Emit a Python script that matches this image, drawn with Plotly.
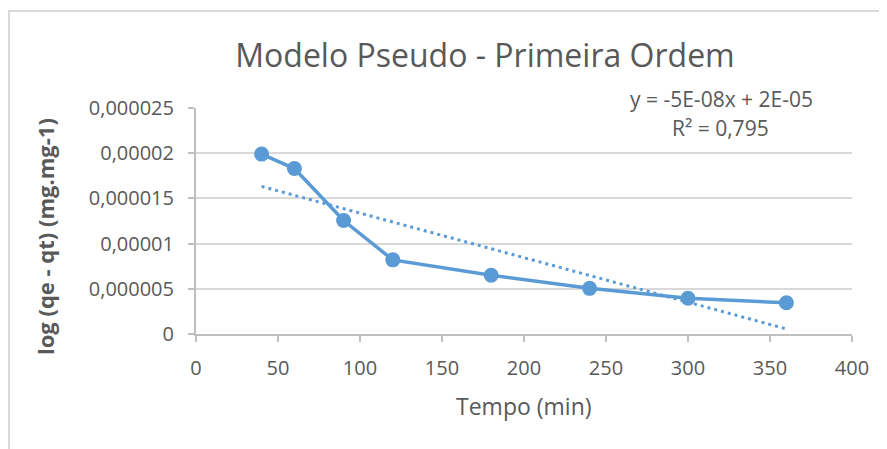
import numpy as np
import plotly.graph_objects as go

# Data
tempo = [40, 60, 90, 120, 180, 240, 300, 360]
log_qe_qt = [1.99e-5, 1.83e-5, 1.255e-5, 8.2e-6, 6.5e-6, 5.05e-6, 3.95e-6, 3.45e-6]
x_ticks = [0, 50, 100, 150, 200, 250, 300, 350, 400]
y_ticks = [0, 0.000005, 0.00001, 0.000015, 0.00002, 0.000025]
y_tick_labels = ["0", "0,000005", "0,00001", "0,000015", "0,00002", "0,000025"]
title_text = "Modelo Pseudo - Primeira Ordem"
eq_text = "y = -5E-08x + 2E-05"
r2_text = "R² = 0,795"

# Linear trendline (least squares, as Excel does)
slope, intercept = np.polyfit(tempo, log_qe_qt, 1)
trend_x = [tempo[0], tempo[-1]]
trend_y = [slope * v + intercept for v in trend_x]

# The page body has an 8px margin, so the figure starts at page (8, 8)
OFF = 8
PAGE_W, PAGE_H = 887, 449
W, H = PAGE_W - OFF, PAGE_H - OFF
# plot area in page pixels: x 196..852, y 108..334
L, R, T, B = 196 - OFF, PAGE_W - 852, 108 - OFF, PAGE_H - 334
pw, ph = W - L - R, H - T - B

def px(xpage):
    return (xpage - OFF - L) / pw

def py(ypage):
    return (H - B - (ypage - OFF)) / ph

TXT = "#595959"
BLUE = "#5b9bd5"
FONT = "Open Sans"

fig = go.Figure()
fig.add_trace(go.Scatter(
    x=trend_x, y=trend_y, mode="lines",
    line=dict(color=BLUE, width=3, dash="3px,4px"),
    hoverinfo="skip", showlegend=False))
fig.add_trace(go.Scatter(
    x=tempo, y=log_qe_qt, mode="lines+markers",
    line=dict(color=BLUE, width=3.5),
    marker=dict(color=BLUE, size=15),
    showlegend=False))

fig.update_layout(
    width=W, height=H,
    margin=dict(l=L, r=R, t=T, b=B, pad=0),
    paper_bgcolor="white", plot_bgcolor="white",
    font=dict(family=FONT, color=TXT, size=20),
    title=dict(text=title_text, x=(485 - OFF) / W, xref="container", xanchor="center",
               y=1 - (56 - OFF) / H, yref="container", yanchor="middle",
               font=dict(family=FONT, size=32, color=TXT)),
    showlegend=False,
)
fig.update_xaxes(
    range=[0, 400], tickvals=x_ticks, ticktext=[str(v) for v in x_ticks],
    showgrid=False, zeroline=False,
    showline=True, linecolor="#bfbfbf", linewidth=2,
    ticks="outside", ticklen=6, tickcolor="#bfbfbf", tickwidth=2,
    ticklabelstandoff=9,
    tickfont=dict(family=FONT, size=20, color=TXT),
)
fig.update_yaxes(
    range=[0, 0.000025], tickvals=y_ticks, ticktext=y_tick_labels,
    showgrid=True, gridcolor="#d9d9d9", gridwidth=2, zeroline=False,
    showline=True, linecolor="#bfbfbf", linewidth=2,
    ticks="outside", ticklen=6, tickcolor="#bfbfbf", tickwidth=2,
    ticklabelstandoff=10,
    tickfont=dict(family=FONT, size=20, color=TXT),
)

fig.add_annotation(text="Tempo (min)", xref="paper", yref="paper",
                   x=px(524), y=py(406), showarrow=False,
                   xanchor="center", yanchor="middle",
                   font=dict(family=FONT, size=23, color=TXT))
fig.add_annotation(text="<b>log (qe - qt) (mg.mg-1)</b>", xref="paper", yref="paper",
                   x=px(45), y=py(237), showarrow=False, textangle=-90,
                   xanchor="center", yanchor="middle",
                   font=dict(family=FONT, size=22, color=TXT))
fig.add_annotation(text=eq_text, xref="paper", yref="paper",
                   x=px(721), y=py(99), showarrow=False,
                   xanchor="center", yanchor="middle",
                   font=dict(family=FONT, size=21, color=TXT))
fig.add_annotation(text=r2_text, xref="paper", yref="paper",
                   x=px(720), y=py(128), showarrow=False,
                   xanchor="center", yanchor="middle",
                   font=dict(family=FONT, size=21, color=TXT))

# Chart outer border: only the top and left edges are visible in the crop
fig.add_shape(type="line", xref="paper", yref="paper",
              x0=px(8), x1=px(887), y0=py(11), y1=py(11),
              line=dict(color="#d9d9d9", width=2), layer="below")
fig.add_shape(type="line", xref="paper", yref="paper",
              x0=px(9), x1=px(9), y0=py(10), y1=py(449),
              line=dict(color="#d9d9d9", width=2), layer="below")

fig.write_html("out.html", post_script="document.body.style.overflow='hidden';")
